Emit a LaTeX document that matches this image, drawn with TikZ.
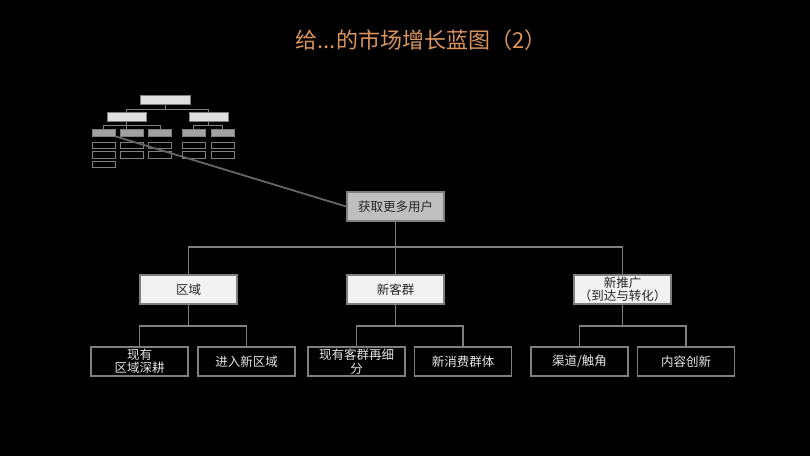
\documentclass[tikz,border=0pt]{standalone}
\usepackage{fontspec}
\setmainfont{Noto Sans CJK SC}
\definecolor{titlecol}{HTML}{D9955C}
\definecolor{bord}{HTML}{7F7F7F}
\definecolor{rootfill}{HTML}{BFBFBF}
\definecolor{lvfill}{HTML}{F2F2F2}
\definecolor{txtdark}{HTML}{262626}
\definecolor{txtlight}{HTML}{E6E6E6}
\begin{document}
\begin{tikzpicture}[x=1pt,y=-1pt,
  rootbox/.style={draw=bord,line width=1.6pt,fill=rootfill,minimum width=97pt,minimum height=29pt,inner sep=1pt,text=txtdark,font=\fontsize{12.5}{13.5}\selectfont},
  midbox/.style={draw=bord,line width=1.6pt,fill=lvfill,minimum width=97pt,minimum height=29pt,inner sep=1pt,text=txtdark,align=center,font=\fontsize{12.5}{13.5}\selectfont},
  leafbox/.style={draw=bord,line width=1.6pt,fill=black,minimum width=97pt,minimum height=29pt,inner sep=1pt,text=txtlight,align=center,font=\fontsize{12.5}{13.5}\selectfont},
  conn/.style={draw=bord,line width=1.6pt},
  tlight/.style={draw=bord,line width=0.6pt,fill=lvfill!92!black,inner sep=0pt},
  tgray/.style={draw=bord,line width=0.6pt,fill=rootfill!85!black,inner sep=0pt,minimum width=23pt,minimum height=7pt},
  tdark/.style={draw=bord,line width=0.6pt,fill=black,inner sep=0pt,minimum width=23pt,minimum height=6.5pt},
  tconn/.style={draw=bord,line width=0.6pt}]
\fill[black] (0,0) rectangle (810,456);
\useasboundingbox (0,0) rectangle (810,456);
% title
\node[text=titlecol,font=\fontsize{22}{25}\selectfont] (title) at (421,40) {给...的市场增长蓝图（2）};
% thumbnail
\node[tlight,minimum width=50pt,minimum height=9pt] (t0) at (165,99.5) {};
\node[tlight,minimum width=39pt,minimum height=9pt] (t1a) at (126.5,116.5) {};
\node[tlight,minimum width=39pt,minimum height=9pt] (t1b) at (208.5,116.5) {};
\node[tgray] (t2a) at (103.5,132.5) {};
\node[tgray] (t2b) at (131.5,132.5) {};
\node[tgray] (t2c) at (160,132.5) {};
\node[tgray] (t2d) at (193.5,132.5) {};
\node[tgray] (t2e) at (222.5,132.5) {};
\node[tdark] (t3a1) at (103.5,145.5) {};
\node[tdark] (t3a2) at (103.5,155) {};
\node[tdark] (t3a3) at (103.5,164.5) {};
\node[tdark] (t3b1) at (131.5,145.5) {};
\node[tdark] (t3b2) at (131.5,155) {};
\node[tdark] (t3c1) at (160,145.5) {};
\node[tdark] (t3c2) at (160,155) {};
\node[tdark] (t3d1) at (193.5,145.5) {};
\node[tdark] (t3d2) at (193.5,155) {};
\node[tdark] (t3e1) at (222.5,145.5) {};
\node[tdark] (t3e2) at (222.5,155) {};
\draw[tconn] (t0.south) -- ++(0,4.5) -| (t1a.north);
\draw[tconn] (t0.south) ++(0,4.5) -| (t1b.north);
\draw[tconn] (t1a.south) -- ++(0,3.5) -| (t2a.north);
\draw[tconn] (t1a.south) ++(0,3.5) -| (t2c.north);
\draw[tconn] (t1a.south) -- (t2b.north -| t1a.south);
\draw[tconn] (t1b.south) -- ++(0,3.5) -| (t2d.north);
\draw[tconn] (t1b.south) ++(0,3.5) -| (t2e.north);
% main chart
\node[rootbox] (root) at (395.5,206.5) {获取更多用户};
\node[midbox] (m1) at (188.5,289.5) {区域};
\node[midbox] (m2) at (395.5,289.5) {新客群};
\node[midbox] (m3) at (622.5,289.5) {新推广\\（到达与转化）};
\node[leafbox] (l1) at (139.5,361.5) {现有\\区域深耕};
\node[leafbox] (l2) at (246.5,361.5) {进入新区域};
\node[leafbox] (l3) at (356.5,361.5) {现有客群再细\\分};
\node[leafbox] (l4) at (463,361.5) {新消费群体};
\node[leafbox] (l5) at (579.5,361.5) {渠道/触角};
\node[leafbox] (l6) at (686,361.5) {内容创新};
\draw[draw=bord!120,line width=1.8pt] (t2a.south east) -- (root.west);
\draw[conn] (root.south) -- (m2.north);
\draw[conn] (m1.north) -- ++(0,-27) -| (m3.north);
\draw[conn] (m1.south) -- ++(0,21) -| (l1.north);
\draw[conn] (m1.south) ++(0,21) -| (l2.north);
\draw[conn] (m2.south) -- ++(0,21) -| (l3.north);
\draw[conn] (m2.south) ++(0,21) -| (l4.north);
\draw[conn] (m3.south) -- ++(0,21) -| (l5.north);
\draw[conn] (m3.south) ++(0,21) -| (l6.north);
\end{tikzpicture}
\end{document}
